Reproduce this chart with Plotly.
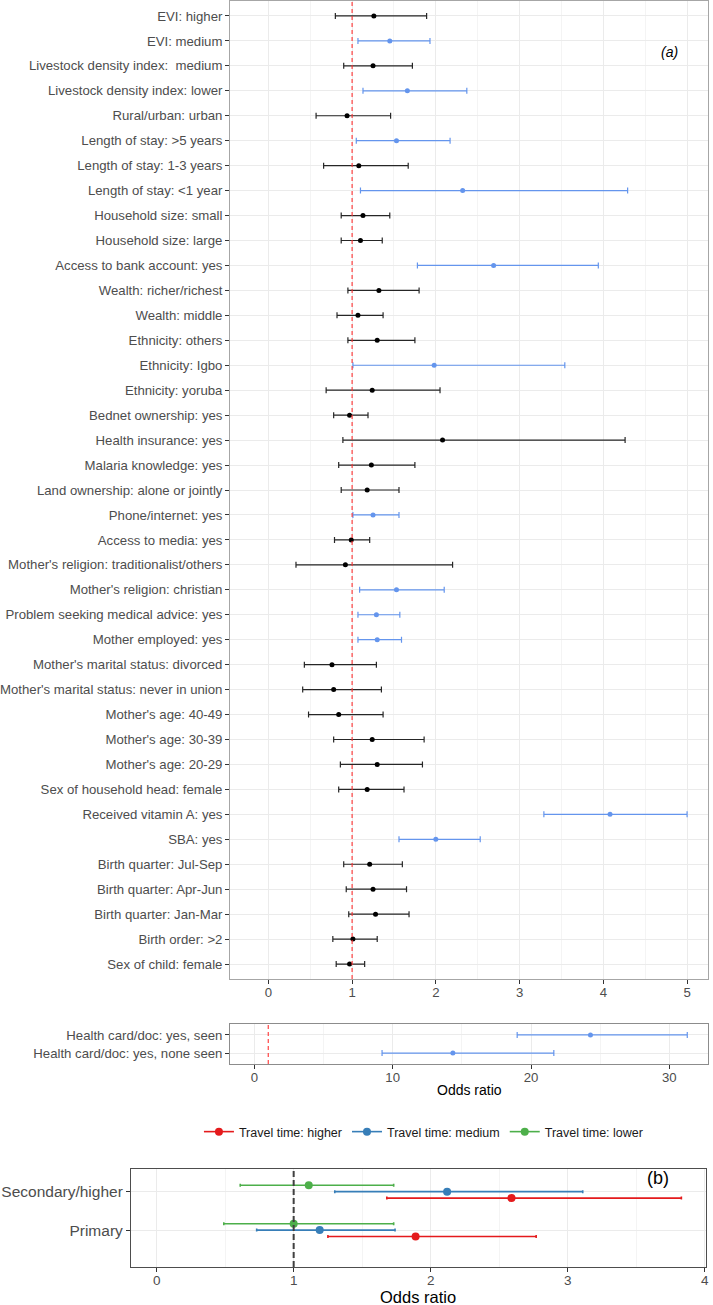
import plotly.graph_objects as go

# (a) odds ratios with 95% CI, listed top to bottom
labels_a = [
    "EVI: higher", "EVI: medium", "Livestock density index:  medium",
    "Livestock density index: lower", "Rural/urban: urban", "Length of stay: >5 years",
    "Length of stay: 1-3 years", "Length of stay: <1 year", "Household size: small",
    "Household size: large", "Access to bank account: yes", "Wealth: richer/richest",
    "Wealth: middle", "Ethnicity: others", "Ethnicity: Igbo", "Ethnicity: yoruba",
    "Bednet ownership: yes", "Health insurance: yes", "Malaria knowledge: yes",
    "Land ownership: alone or jointly", "Phone/internet: yes", "Access to media: yes",
    "Mother's religion: traditionalist/others", "Mother's religion: christian",
    "Problem seeking medical advice: yes", "Mother employed: yes",
    "Mother's marital status: divorced", "Mother's marital status: never in union",
    "Mother's age: 40-49", "Mother's age: 30-39", "Mother's age: 20-29",
    "Sex of household head: female", "Received vitamin A: yes", "SBA: yes",
    "Birth quarter: Jul-Sep", "Birth quarter: Apr-Jun", "Birth quarter: Jan-Mar",
    "Birth order: >2", "Sex of child: female",
]
or_a = [1.26, 1.45, 1.25, 1.66, 0.94, 1.53, 1.08, 2.32, 1.13, 1.10, 2.69, 1.32, 1.07,
        1.30, 1.98, 1.24, 0.97, 2.08, 1.23, 1.18, 1.25, 0.99, 0.92, 1.53, 1.29, 1.30,
        0.76, 0.78, 0.84, 1.24, 1.30, 1.18, 4.08, 2.00, 1.21, 1.25, 1.28, 1.01, 0.97]
lo_a = [0.80, 1.07, 0.90, 1.13, 0.57, 1.05, 0.66, 1.10, 0.87, 0.87, 1.78, 0.95, 0.82,
        0.95, 1.01, 0.69, 0.78, 0.89, 0.84, 0.87, 1.01, 0.79, 0.33, 1.09, 1.07, 1.07,
        0.43, 0.41, 0.48, 0.78, 0.86, 0.84, 3.29, 1.56, 0.90, 0.93, 0.96, 0.77, 0.81]
hi_a = [1.89, 1.93, 1.72, 2.37, 1.46, 2.17, 1.67, 4.29, 1.45, 1.36, 3.94, 1.80, 1.37,
        1.75, 3.54, 2.05, 1.19, 4.26, 1.75, 1.56, 1.56, 1.21, 2.20, 2.10, 1.57, 1.59,
        1.29, 1.35, 1.37, 1.86, 1.84, 1.62, 5.00, 2.53, 1.60, 1.65, 1.68, 1.30, 1.15]
significant_a = [False, True, False, True, False, True, False, True, False, False, True,
                 False, False, False, True, False, False, False, False, False, True,
                 False, False, True, True, True, False, False, False, False, False,
                 False, True, True, False, False, False, False, False]

# health card panel (large odds ratios)
labels_card = ["Health card/doc: yes, seen", "Health card/doc: yes, none seen"]
or_card = [24.3, 14.35]
lo_card = [19.0, 9.23]
hi_card = [31.3, 21.65]

# (b) education x travel time
edu_levels = ["Primary", "Secondary/higher"]
travel_groups = ["Travel time: higher", "Travel time: medium", "Travel time: lower"]
or_b = {"Travel time: higher": [1.89, 2.59],
        "Travel time: medium": [1.19, 2.12],
        "Travel time: lower": [1.00, 1.11]}
lo_b = {"Travel time: higher": [1.25, 1.68],
        "Travel time: medium": [0.73, 1.30],
        "Travel time: lower": [0.49, 0.61]}
hi_b = {"Travel time: higher": [2.77, 3.83],
        "Travel time: medium": [1.74, 3.11],
        "Travel time: lower": [1.73, 1.73]}

W, H = 713, 1305
BLUE = "cornflowerblue"
TRAVEL_COLORS = {"Travel time: higher": "#E41A1C",
                 "Travel time: medium": "#377EB8",
                 "Travel time: lower": "#4DAF4A"}
DODGE = {"Travel time: higher": -0.167, "Travel time: medium": 0.0, "Travel time: lower": 0.167}


def px_x(p):
    return p / W


def px_y(p):
    return 1 - p / H


def ci_trace(x, y, lo, hi, color, xa, ya, size=5, thick=1.2, cap=3, bar_color=None, name=None):
    return go.Scatter(
        x=x, y=y, mode="markers", name=name, showlegend=False,
        marker=dict(color=color, size=size),
        error_x=dict(type="data", symmetric=False,
                     array=[h - v for h, v in zip(hi, x)],
                     arrayminus=[v - l for v, l in zip(x, lo)],
                     color=bar_color or color, thickness=thick, width=cap),
        xaxis=xa, yaxis=ya, hoverinfo="x+y",
    )


fig = go.Figure()

# panel (a): black = non significant, blue = significant
for sig, color, bar in [(False, "black", "#262626"), (True, BLUE, BLUE)]:
    idx = [i for i, s in enumerate(significant_a) if s == sig]
    fig.add_trace(ci_trace([or_a[i] for i in idx], [labels_a[i] for i in idx],
                           [lo_a[i] for i in idx], [hi_a[i] for i in idx],
                           color, "x", "y", bar_color=bar))

# health card panel
fig.add_trace(ci_trace(or_card, labels_card, lo_card, hi_card, BLUE, "x2", "y2"))

# panel (b)
for g in travel_groups:
    ys = [i + 1 + DODGE[g] for i in range(len(edu_levels))]
    fig.add_trace(ci_trace(or_b[g], ys, lo_b[g], hi_b[g], TRAVEL_COLORS[g], "x3", "y3",
                           size=8, thick=1.6, cap=1.5, name=g))
# legend entries drawn as line + point like ggplot
for g in travel_groups:
    fig.add_trace(go.Scatter(x=[None], y=[None], mode="lines+markers", name=g,
                             line=dict(color=TRAVEL_COLORS[g], width=1.6),
                             marker=dict(color=TRAVEL_COLORS[g], size=8),
                             xaxis="x3", yaxis="y3"))

grid = "#EBEBEB"
minor_grid = "#F4F4F4"
tickfont = dict(size=13.2, color="#4D4D4D")
common_x = dict(showgrid=True, gridcolor=grid, zeroline=False, ticks="outside",
                ticklen=4, tickcolor="#333333", showline=True, mirror=True,
                ticklabelstandoff=-3)

fig.update_layout(
    width=W, height=H,
    margin=dict(l=0, r=0, t=0, b=0),
    paper_bgcolor="white", plot_bgcolor="white",
    font=dict(family="Liberation Sans, Arial, sans-serif", color="#1A1A1A"),
    showlegend=True,
    legend=dict(orientation="h", x=px_x(424), xanchor="center", y=px_y(1132),
                yanchor="middle", font=dict(size=12.5, color="#1A1A1A"),
                itemwidth=30, bgcolor="rgba(0,0,0,0)"),
    xaxis=dict(domain=[px_x(229), px_x(711)], range=[-0.457, 5.25], tickvals=[0, 1, 2, 3, 4, 5],
               minor=dict(dtick=0.5, tick0=0, showgrid=True, gridcolor=minor_grid),
               linecolor="#A6A6A6", anchor="y", tickfont=tickfont, **common_x),
    yaxis=dict(domain=[px_y(979), px_y(1)], type="category",
               categoryorder="array", categoryarray=list(reversed(labels_a)),
               range=[-0.6, len(labels_a) - 0.4], showgrid=True, gridcolor=grid,
               ticks="outside", ticklen=4, tickcolor="#333333", tickfont=tickfont,
               showline=True, mirror=True, linecolor="#A6A6A6", anchor="x"),
    xaxis2=dict(domain=[px_x(229), px_x(711)], range=[-1.76, 32.8], tickvals=[0, 10, 20, 30],
                minor=dict(dtick=5, tick0=0, showgrid=True, gridcolor=minor_grid),
                linecolor="#8C8C8C", anchor="y2", tickfont=tickfont, **common_x),
    yaxis2=dict(domain=[px_y(1064), px_y(1024)], type="category",
                categoryorder="array", categoryarray=list(reversed(labels_card)),
                range=[-0.6, 1.6], showgrid=True, gridcolor=grid,
                ticks="outside", ticklen=4, tickcolor="#333333", tickfont=tickfont,
                showline=True, mirror=True, linecolor="#8C8C8C", anchor="x2"),
    xaxis3=dict(domain=[px_x(129), px_x(709)], range=[-0.188, 4.01], tickvals=[0, 1, 2, 3, 4],
                minor=dict(dtick=0.5, tick0=0, showgrid=True, gridcolor=minor_grid),
                linecolor="#4D4D4D", anchor="y3",
                tickfont=dict(size=13.5, color="#4D4D4D"), **common_x),
    yaxis3=dict(domain=[px_y(1267), px_y(1169)], range=[0.04, 2.59],
                tickvals=[1, 2], ticktext=edu_levels, showgrid=True, gridcolor=grid,
                zeroline=False, ticks="outside", ticklen=4, tickcolor="#333333",
                tickfont=dict(size=15.5, color="#4D4D4D"),
                showline=True, mirror=True, linecolor="#4D4D4D", anchor="x3"),
)

# reference lines at OR = 1
fig.add_shape(type="line", xref="x", yref="y domain", x0=1, x1=1, y0=0, y1=1,
              line=dict(color="#FF3333", width=1.1, dash="4px,3px"))
fig.add_shape(type="line", xref="x2", yref="y2 domain", x0=1, x1=1, y0=0, y1=1,
              line=dict(color="#FF3333", width=1.1, dash="4px,3px"))
fig.add_shape(type="line", xref="x3", yref="y3 domain", x0=1, x1=1, y0=0, y1=1,
              line=dict(color="#404040", width=2, dash="6px,3px"))

# panel tags and axis titles, centred on the given page pixel
for text, x, y, size in [("<i>(a)</i>", 672, 52, 14), ("(b)", 661, 1178, 18),
                         ("Odds ratio", 470, 1090, 14), ("Odds ratio", 419, 1297, 16.5)]:
    fig.add_annotation(text=text, x=px_x(x), y=px_y(y), xref="paper", yref="paper",
                       xanchor="center", yanchor="middle", showarrow=False,
                       font=dict(size=size, color="black"))

# drop the browser's default body margin so the figure sits at the page corner
fig.write_html("out.html", config={"displayModeBar": False},
               post_script="document.body.style.margin = '0';")
